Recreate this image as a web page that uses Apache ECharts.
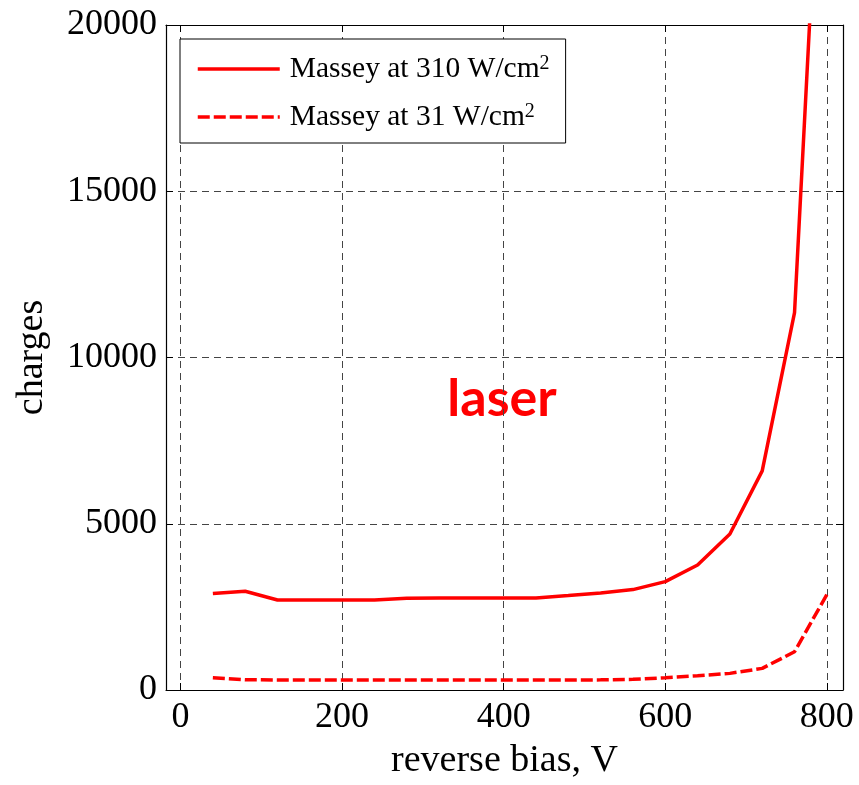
<!DOCTYPE html>
<html>
<head>
<meta charset="utf-8">
<script src="https://cdn.jsdelivr.net/npm/echarts@6/dist/echarts.min.js"></script>
<style>
  html, body { margin: 0; padding: 0; background: #fff; }
  #chart { width: 859px; height: 785px; }
</style>
</head>
<body>
<div id="chart"></div>
<script>
// reverse bias (V)
const biasValues = [40, 80, 120, 160, 200, 240, 280, 320, 360, 400, 440, 480, 520, 560, 600, 640, 680, 720, 760, 800];
// charges, 310 W/cm2
const charges310 = [2900, 2970, 2705, 2705, 2705, 2705, 2760, 2770, 2770, 2770, 2770, 2840, 2920, 3020, 3260, 3760, 4690, 6590, 11350, 30000];
// charges, 31 W/cm2
const charges31 = [370, 310, 300, 300, 300, 300, 300, 300, 300, 300, 300, 300, 305, 320, 370, 430, 500, 650, 1150, 2870];

const seriesNames = ['Massey at 310 W/cm', 'Massey at 31 W/cm'];
const xTicks = [0, 200, 400, 600, 800];

const serif = 'Liberation Serif';
const red = '#ff0000';
const gridLine = { show: true, lineStyle: { color: '#444', type: [7, 5], width: 1 } };

const chart = echarts.init(document.getElementById('chart'));

const pairs = (ys) => biasValues.map((x, i) => [x, ys[i]]);

chart.setOption({
  animation: false,
  backgroundColor: '#fff',
  grid: { left: 166, right: 16, top: 25, bottom: 91 },
  legend: {
    orient: 'vertical',
    left: 180,
    top: 39,
    backgroundColor: '#fff',
    borderColor: '#000',
    borderWidth: 1,
    padding: [15, 16, 11, 16],
    itemWidth: 82,
    itemHeight: 30,
    itemGap: 18,
    itemStyle: { opacity: 0 },
    lineStyle: { width: 3.5 },
    data: seriesNames,
    formatter: (name) => name + '{sup|2}',
    textStyle: {
      fontFamily: serif,
      fontSize: 29.5,
      color: '#000',
      lineHeight: 30,
      padding: [0, 0, 0, 5],
      rich: { sup: { fontFamily: serif, fontSize: 20, verticalAlign: 'top', lineHeight: 30, color: '#000' } },
    },
  },
  xAxis: [
    {
      type: 'value',
      min: -18,
      max: 820,
      name: 'reverse bias, V',
      nameLocation: 'middle',
      nameGap: 52,
      nameTextStyle: { fontFamily: serif, fontSize: 38, color: '#000' },
      axisLine: { onZero: false, lineStyle: { color: '#000', width: 1.2 } },
      axisTick: { inside: true, length: 7, customValues: xTicks, lineStyle: { color: '#000' } },
      axisLabel: { customValues: xTicks, fontFamily: serif, fontSize: 36, color: '#000', margin: 10 },
      splitLine: gridLine,
    },
    {
      type: 'value',
      position: 'top',
      min: -18,
      max: 820,
      axisLine: { onZero: false, lineStyle: { color: '#000', width: 1.2 } },
      axisTick: { inside: true, length: 7, customValues: xTicks, lineStyle: { color: '#000' } },
      axisLabel: { show: false },
      splitLine: { show: false },
    },
  ],
  yAxis: [
    {
      type: 'value',
      min: 0,
      max: 20000,
      interval: 5000,
      name: 'charges',
      nameLocation: 'middle',
      nameGap: 115,
      nameTextStyle: { fontFamily: serif, fontSize: 38, color: '#000' },
      axisLine: { show: true, onZero: false, lineStyle: { color: '#000', width: 1.2 } },
      axisTick: { show: true, inside: true, length: 7, lineStyle: { color: '#000' } },
      axisLabel: { fontFamily: serif, fontSize: 36, color: '#000', margin: 9, formatter: (v) => String(v) },
      splitLine: gridLine,
    },
    {
      type: 'value',
      position: 'right',
      min: 0,
      max: 20000,
      interval: 5000,
      axisLine: { show: true, onZero: false, lineStyle: { color: '#000', width: 1.2 } },
      axisTick: { show: true, inside: true, length: 7, lineStyle: { color: '#000' } },
      axisLabel: { show: false },
      splitLine: { show: false },
    },
  ],
  series: [
    {
      name: seriesNames[0],
      type: 'line',
      data: pairs(charges310),
      showSymbol: false,
      symbol: 'none',
      clip: true,
      color: red,
      lineStyle: { color: red, width: 3.5 },
    },
    {
      name: seriesNames[1],
      type: 'line',
      data: pairs(charges31),
      showSymbol: false,
      symbol: 'none',
      clip: true,
      color: red,
      lineStyle: { color: red, width: 3.5, type: [12, 4] },
    },
  ],
  graphic: [
    {
      type: 'text',
      x: 502,
      y: 399,
      style: {
        text: 'laser',
        fill: red,
        font: 'bold 52px Lato',
        align: 'center',
        verticalAlign: 'middle',
      },
    },
  ],
});
</script>
</body>
</html>
